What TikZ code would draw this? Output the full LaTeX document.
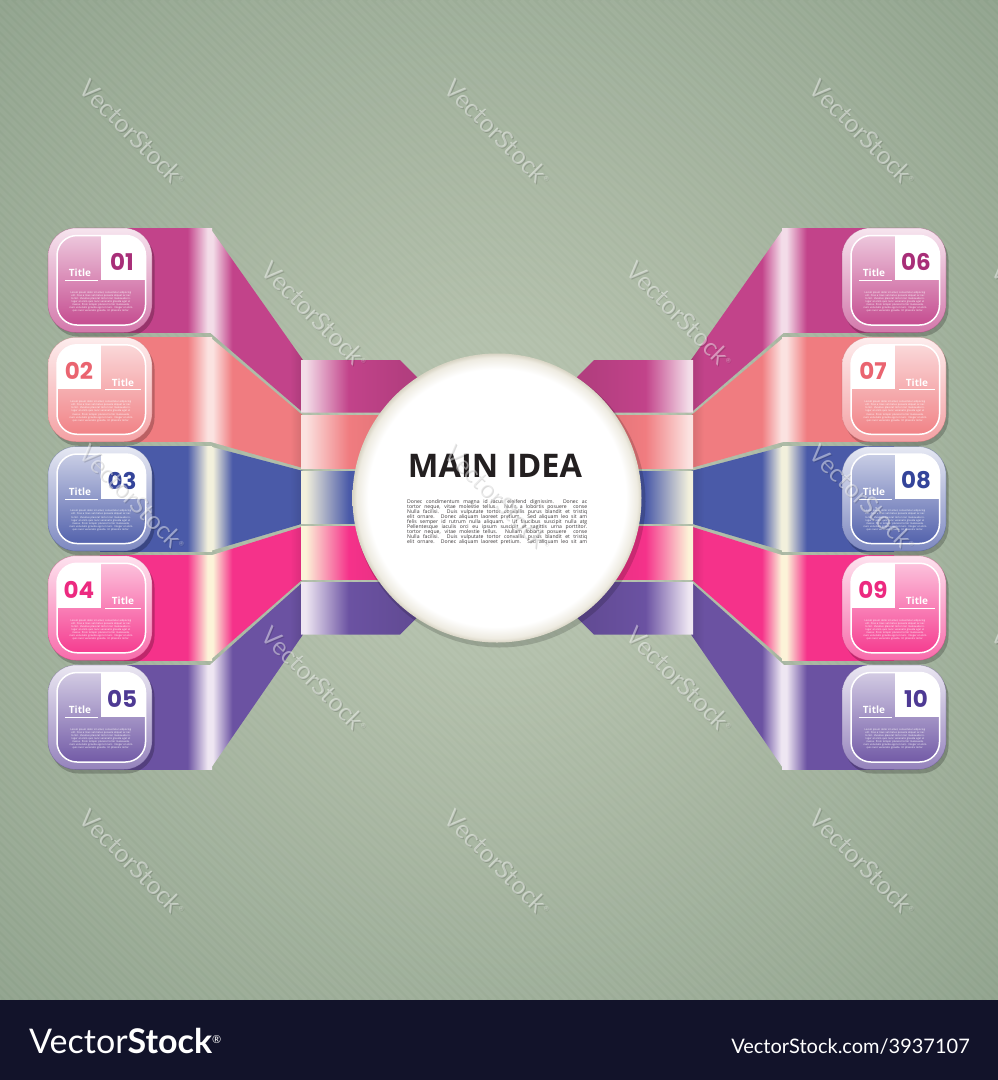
\documentclass[tikz,border=0pt]{standalone}
\usepackage{fontspec}
\setmainfont{Open Sans}
\newfontfamily\numfont{Poppins}
\newfontfamily\lato{Lato}
\usetikzlibrary{calc}

\definecolor{bgin}{HTML}{B2BFAA}
\definecolor{bgout}{HTML}{8EA18B}
\definecolor{barcol}{HTML}{12132A}
\definecolor{magR}{HTML}{C2438A}
\definecolor{magH}{HTML}{F3DCE8}
\definecolor{magN}{HTML}{A82E78}
\definecolor{salR}{HTML}{F07C80}
\definecolor{salH}{HTML}{FBE2E0}
\definecolor{salN}{HTML}{EA6470}
\definecolor{bluR}{HTML}{4A5AA8}
\definecolor{bluH}{HTML}{F2F0DC}
\definecolor{bluN}{HTML}{34449A}
\definecolor{hotR}{HTML}{F5328A}
\definecolor{hotH}{HTML}{FCF3D8}
\definecolor{hotN}{HTML}{EC2A80}
\definecolor{purR}{HTML}{6B52A2}
\definecolor{purH}{HTML}{EEE6F2}
\definecolor{purN}{HTML}{4E3A94}
\definecolor{rimA}{HTML}{EEEBE1}
\definecolor{rimB}{HTML}{D8D4C4}
\definecolor{ink}{HTML}{231F20}

\pgfdeclareradialshading{bgshade}{\pgfpoint{0bp}{0bp}}{color(0bp)=(bgin); color(8bp)=(bgin); color(36bp)=(bgout); color(50bp)=(bgout)}
\pgfdeclareradialshading{disc}{\pgfpoint{0bp}{0bp}}{color(0bp)=(white); color(22.3bp)=(white); color(24.3bp)=(rimA); color(25bp)=(rimB); color(50bp)=(rimB)}

\newcommand\mkshades[3]{%
\pgfdeclarehorizontalshading{#1A}{100bp}{color(0bp)=(#2); color(25bp)=(#2); color(64bp)=(#2); color(73bp)=(#3); color(75bp)=(#3); color(100bp)=(#3)}%
\pgfdeclarehorizontalshading{#1B}{100bp}{color(0bp)=(#3); color(25bp)=(#3); color(26.5bp)=(#3); color(37bp)=(#2); color(68bp)=(#2); color(75bp)=(#2!88!black); color(100bp)=(#2!88!black)}%
\pgfdeclarehorizontalshading{#1C}{100bp}{color(0bp)=(#3); color(25bp)=(#3); color(26.5bp)=(#3); color(41bp)=(#2); color(60bp)=(#2!92!black); color(100bp)=(#2!92!black)}%
}
\mkshades{mag}{magR}{magH}
\mkshades{sal}{salR}{salH}
\mkshades{blu}{bluR}{bluH}
\mkshades{hot}{hotR}{hotH}
\mkshades{pur}{purR}{purH}

% #1 prefix, #2 side sign, #3 shading angle, #4 topA, #5 botA, #6 topC, #7 botC, #8 end type
\newcommand\ribbon[8]{%
\shade[shading=#1A, shading angle=#3] ({497+(#2)*(100-497)},#4) -- ({497+(#2)*(212-497)},#4) -- ({497+(#2)*(212-497)},#5) -- ({497+(#2)*(100-497)},#5) -- cycle;
\shade[shading=#1B, shading angle=#3] ({497+(#2)*(210-497)},#4) -- ({497+(#2)*(303-497)},#6) -- ({497+(#2)*(303-497)},#7) -- ({497+(#2)*(210-497)},#5) -- cycle;
\ifcase#8
\shade[shading=#1C, shading angle=#3] ({497+(#2)*(301-497)},#6) -- ({497+(#2)*(450-497)},#6) -- ({497+(#2)*(450-497)},#7) -- ({497+(#2)*(301-497)},#7) -- cycle;
\or
\shade[shading=#1C, shading angle=#3] ({497+(#2)*(301-497)},#6) -- ({497+(#2)*(400-497)},#6) -- ({497+(#2)*(450-497)},{#6+50}) -- ({497+(#2)*(450-497)},#7) -- ({497+(#2)*(301-497)},#7) -- cycle;
\or
\shade[shading=#1C, shading angle=#3] ({497+(#2)*(301-497)},#6) -- ({497+(#2)*(450-497)},#6) -- ({497+(#2)*(450-497)},{#7-50}) -- ({497+(#2)*(400-497)},#7) -- ({497+(#2)*(301-497)},#7) -- cycle;
\fi}

\newcommand\loremtext{Lorem ipsum dolor sit amet, consectetur adipiscing elit. Cras a risus vel metus posuere aliquet ac nec tortor. Vivamus placerat tortor non malesuada integer at enim quis nunc venenatis gravida eget et massa. Proin tempor placerat tortor malesuada, nunc venenatis gravida eget et nunc. Integer at enim quis nunc venenatis gravida. Ut pharetra tortor.}

% #1 name, #2 left x, #3 top y, #4 base colour, #5 number colour, #6 number, #7 0 = number right, 1 = number left
\newcommand\infobox[7]{%
\begin{scope}[shift={(#2,#3)}]
\fill[black, opacity=.22, rounded corners=28pt] (2.5,4) rectangle (106.5,108.5);
\shade[rounded corners=28pt, top color=#4!14!white, bottom color=#4!72!white] (0,0) rectangle (104,104.5);
\draw[#4!80!black, opacity=.35, line width=.6pt, rounded corners=28pt] (0,0) rectangle (104,104.5);
\begin{scope}
\clip[rounded corners=20pt] (9,7.5) rectangle (97.5,97);
\shade[top color=#4!30!white, bottom color=#4!95!white] (9,7.5) rectangle (97.5,97);
\ifcase#7 \fill[white] (53,7.5) rectangle (97.5,52);\or \fill[white] (9,7.5) rectangle (53,52);\fi
\end{scope}
\draw[white, line width=1.5pt, rounded corners=20pt] (9,7.5) rectangle (97.5,97);
\ifcase#7
\node[name=#1n, font=\numfont\bfseries\fontsize{23}{23}\selectfont, text=#5, inner sep=0] at (74,34) {#6};
\node[name=#1t, font=\bfseries\fontsize{10}{10}\selectfont, text=white, inner sep=0] at (32,45) {Title};
\draw[white, line width=.8pt] (17,52.6) -- (50,52.6);
\or
\node[name=#1n, font=\numfont\bfseries\fontsize{23}{23}\selectfont, text=#5, inner sep=0] at (31,34) {#6};
\node[name=#1t, font=\bfseries\fontsize{10}{10}\selectfont, text=white, inner sep=0] at (75,45) {Title};
\draw[white, line width=.8pt] (57,52.6) -- (93,52.6);
\fi
\node[name=#1l, text=white, font=\fontsize{2.5}{3.1}\selectfont, text width=70pt, align=center, inner sep=0] at (53,74) {\loremtext};
\end{scope}}

\newcommand\pline[3]{\node[name=#1, anchor=west, inner sep=0, text=ink!90!white, font=\fontsize{5.1}{5.5}\selectfont] at (407,#2) {\makebox[180pt][s]{#3}};}

\begin{document}
\begin{tikzpicture}[x=1pt, y=-1pt]
\useasboundingbox (0,0) rectangle (998,1080);
% background
\shade[shading=bgshade] (0,0) rectangle (998,1000);
\begin{scope}
\clip (0,0) rectangle (998,1000);
\foreach \k in {-1000,-991,...,1000} \draw[white, opacity=.05, line width=4pt] (\k,0) -- ({\k+1000},1000);
\end{scope}

% left ribbons
\ribbon{mag}{1}{0}{228}{332.5}{360}{412.5}{1}
\ribbon{sal}{1}{0}{337.25}{441.75}{415.5}{468}{0}
\ribbon{blu}{1}{0}{446.5}{551}{471}{523.5}{0}
\ribbon{hot}{1}{0}{555.75}{660.25}{526.5}{579}{0}
\ribbon{pur}{1}{0}{665}{769.5}{582}{634.5}{2}
% right ribbons
\ribbon{mag}{-1}{180}{228}{332.5}{360}{412.5}{1}
\ribbon{sal}{-1}{180}{337.25}{441.75}{415.5}{468}{0}
\ribbon{blu}{-1}{180}{446.5}{551}{471}{523.5}{0}
\ribbon{hot}{-1}{180}{555.75}{660.25}{526.5}{579}{0}
\ribbon{pur}{-1}{180}{665}{769.5}{582}{634.5}{2}

% boxes
\infobox{b1}{48}{228}{magR}{magN}{01}{0}
\infobox{b2}{48}{337.25}{salR}{salN}{02}{1}
\infobox{b3}{48}{446.5}{bluR}{bluN}{03}{0}
\infobox{b4}{48}{555.75}{hotR}{hotN}{04}{1}
\infobox{b5}{48}{665}{purR}{purN}{05}{0}
\infobox{b6}{842}{228}{magR}{magN}{06}{0}
\infobox{b7}{842}{337.25}{salR}{salN}{07}{1}
\infobox{b8}{842}{446.5}{bluR}{bluN}{08}{0}
\infobox{b9}{842}{555.75}{hotR}{hotN}{09}{1}
\infobox{b10}{842}{665}{purR}{purN}{10}{0}

% central circle
\fill[black, opacity=.16] (499.5,501.5) circle (146);
\node[name=main, circle, minimum size=289pt, inner sep=0, shade, shading=disc] at (497,498) {};
\node[name=title, font=\bfseries\fontsize{32.5}{32.5}\selectfont, text=ink, inner sep=0] at (495,466) {MAIN IDEA};
\pline{p1}{502}{Donec condimentum magna id lacus eleifend dignissim. Donec ac}
\pline{p2}{507}{tortor neque, vitae molestie tellus. Nulla a lobortis posuere\ \ conse}
\pline{p3}{512}{Nulla facilisi. Duis vulputate tortor convallis purus blandit et tristiq}
\pline{p4}{517}{elit ornare. Donec aliquam laoreet pretium. Sed aliquam leo sit am}
\pline{p5}{522}{felis semper id rutrum nulla aliquam. Ut faucibus suscipit nulla atg}
\pline{p6}{527}{Pellentesque iaculis orci eu ipsum suscipit et sagittis urna porttitor.}
\pline{p7}{532}{tortor neque, vitae molestie tellus. Nullam lobortis posuere\ \ conse}
\pline{p8}{537}{Nulla facilisi. Duis vulputate tortor convallis purus blandit et tristiq}
\pline{p9}{542}{elit ornare. Donec aliquam laoreet pretium. Sed aliquam leo sit am}

% watermarks
\begin{scope}
\clip (0,0) rectangle (998,1000);
\foreach \wx/\wy [count=\wi] in {133/133, 498/133, 863/133, 315/315, 680/315, 1045/315, 133/498, 498/498, 863/498, 315/680, 680/680, 1045/680, 133/863, 498/863, 863/863} {
\node[name=wms\wi, rotate=-45, text=black, opacity=.14, font=\lato\fontsize{25}{25}\selectfont] at ({\wx+0.9},{\wy+0.9}) {VectorStock\textsuperscript{\fontsize{6}{6}\selectfont\textregistered}};
\node[name=wm\wi, rotate=-45, text=white, opacity=.45, font=\lato\fontsize{25}{25}\selectfont] at (\wx,\wy) {VectorStock\textsuperscript{\fontsize{6}{6}\selectfont\textregistered}};
}
\end{scope}

% bottom bar
\fill[barcol] (0,1000) rectangle (998,1080);
\node[name=logo, anchor=base west, inner sep=0, text=white, font=\lato\fontsize{34}{34}\selectfont] at (29,1053) {Vector\textbf{Stock}\textsuperscript{\fontsize{11}{11}\selectfont\textregistered}};
\node[name=url, anchor=base east, inner sep=0, text=white, font=\lato\fontsize{20}{20}\selectfont] at (970,1053) {VectorStock.com/3937107};
\end{tikzpicture}
\end{document}
